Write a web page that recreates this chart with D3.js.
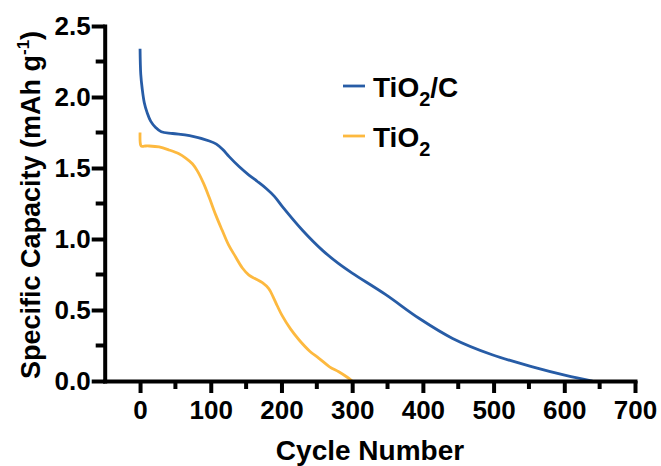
<html>
<head>
<script src="https://d3js.org/d3.v7.min.js"></script>
<style>
  body { margin: 0; background: #fff; }
  text { font-family: "Liberation Sans", Arial, sans-serif; font-weight: 700; fill: #000; }
</style>
</head>
<body>
<div class="chart"></div>
<script>
// TiO2/C series (cycle, capacity)
var tio2cCycles = [0, 1, 3, 6, 10, 15, 22, 30, 46, 70, 98, 108, 117, 126, 140, 154, 166, 178, 190, 201, 230, 258, 280, 300, 347, 395, 442, 498, 555, 602, 640];
var tio2cValues = [2.34, 2.16, 2.06, 1.96, 1.89, 1.83, 1.785, 1.755, 1.743, 1.728, 1.69, 1.668, 1.63, 1.58, 1.51, 1.45, 1.405, 1.357, 1.30, 1.23, 1.06, 0.92, 0.83, 0.76, 0.61, 0.44, 0.30, 0.185, 0.10, 0.04, 0.0];
// TiO2 series
var tio2Cycles = [0, 1, 3, 8, 13, 27, 41, 55, 65, 74, 81, 90, 98, 107, 116, 125, 135, 145, 154, 163, 173, 182, 188, 194, 201, 213, 225, 240, 253, 268, 281, 292, 300];
var tio2Values = [1.75, 1.66, 1.652, 1.655, 1.655, 1.648, 1.627, 1.60, 1.568, 1.53, 1.48, 1.39, 1.29, 1.17, 1.063, 0.96, 0.875, 0.794, 0.746, 0.72, 0.692, 0.65, 0.595, 0.53, 0.46, 0.365, 0.289, 0.21, 0.16, 0.10, 0.065, 0.03, 0.0];

var xMajor = [0, 100, 200, 300, 400, 500, 600, 700];
var xMinor = [50, 150, 250, 350, 450, 550, 650];
var yMajor = [0, 0.5, 1.0, 1.5, 2.0, 2.5];
var yMinor = [0.25, 0.75, 1.25, 1.75, 2.25];

var w = 661, h = 466;
var svg = d3.select('.chart').append('svg').attr('width', w).attr('height', h);

var x = d3.scaleLinear().domain([-50, 700]).range([104.7, 635]);
var y = d3.scaleLinear().domain([0, 2.5]).range([381, 26]);

// curves
var line = d3.line().x(function(d){ return x(d[0]); }).y(function(d){ return y(d[1]); }).curve(d3.curveCatmullRom.alpha(0.5));
var blueData = tio2cCycles.map(function(c, i){ return [c, tio2cValues[i]]; });
var orangeData = tio2Cycles.map(function(c, i){ return [c, tio2Values[i]]; });

svg.append('path').attr('d', line(orangeData)).attr('fill', 'none').attr('stroke', '#fdb93f').attr('stroke-width', 2.8);
svg.append('path').attr('d', line(blueData)).attr('fill', 'none').attr('stroke', '#275ca6').attr('stroke-width', 2.8);

// x axis
var xAxis = svg.append('g').attr('transform', 'translate(0,381)')
  .call(d3.axisBottom(x).tickValues(xMajor).tickSize(12).tickSizeOuter(0).tickPadding(8).tickFormat(d3.format('d')));
xAxis.selectAll('text').style('font-size', '26px');
xAxis.append('g').selectAll('line').data(xMinor).enter().append('line')
  .attr('x1', function(d){ return x(d); }).attr('x2', function(d){ return x(d); })
  .attr('y1', 0).attr('y2', 8).attr('stroke', '#000');

// y axis
var yAxis = svg.append('g').attr('transform', 'translate(' + x(-50) + ',0)')
  .call(d3.axisLeft(y).tickValues(yMajor).tickSize(13).tickSizeOuter(0).tickPadding(1).tickFormat(d3.format('.1f')));
yAxis.selectAll('text').style('font-size', '26px');
yAxis.append('g').selectAll('line').data(yMinor).enter().append('line')
  .attr('y1', function(d){ return y(d); }).attr('y2', function(d){ return y(d); })
  .attr('x1', 0).attr('x2', -9).attr('stroke', '#000');

svg.selectAll('.domain').attr('stroke', '#000').attr('stroke-width', 4).attr('stroke-linecap', 'square');
svg.selectAll('g line').attr('stroke-width', 4);

// axis titles
svg.append('text').attr('x', 370).attr('y', 460).attr('text-anchor', 'middle')
  .style('font-size', '28px').text('Cycle Number');

var yTitle = svg.append('text').attr('transform', 'translate(39.5,205) rotate(-90)')
  .attr('text-anchor', 'middle').style('font-size', '27px');
yTitle.append('tspan').text('Specific Capacity (mAh g');
yTitle.append('tspan').text('-1').style('font-size', '17px').attr('dy', -11);
yTitle.append('tspan').text(')').attr('dy', 11);

// legend
var legend = [
  { color: '#275ca6', y: 86, main: 'TiO', sub: '2', rest: '/C' },
  { color: '#fdb93f', y: 136, main: 'TiO', sub: '2', rest: '' }
];
legend.forEach(function(l){
  svg.append('line').attr('x1', 343).attr('x2', 365).attr('y1', l.y).attr('y2', l.y)
    .attr('stroke', l.color).attr('stroke-width', 2.8);
  var t = svg.append('text').attr('x', 373).attr('y', l.y + 11).style('font-size', '28px');
  t.append('tspan').text(l.main);
  t.append('tspan').text(l.sub).style('font-size', '20px').attr('dy', 9);
  if (l.rest) t.append('tspan').text(l.rest).attr('dy', -9);
});
</script>
</body>
</html>
